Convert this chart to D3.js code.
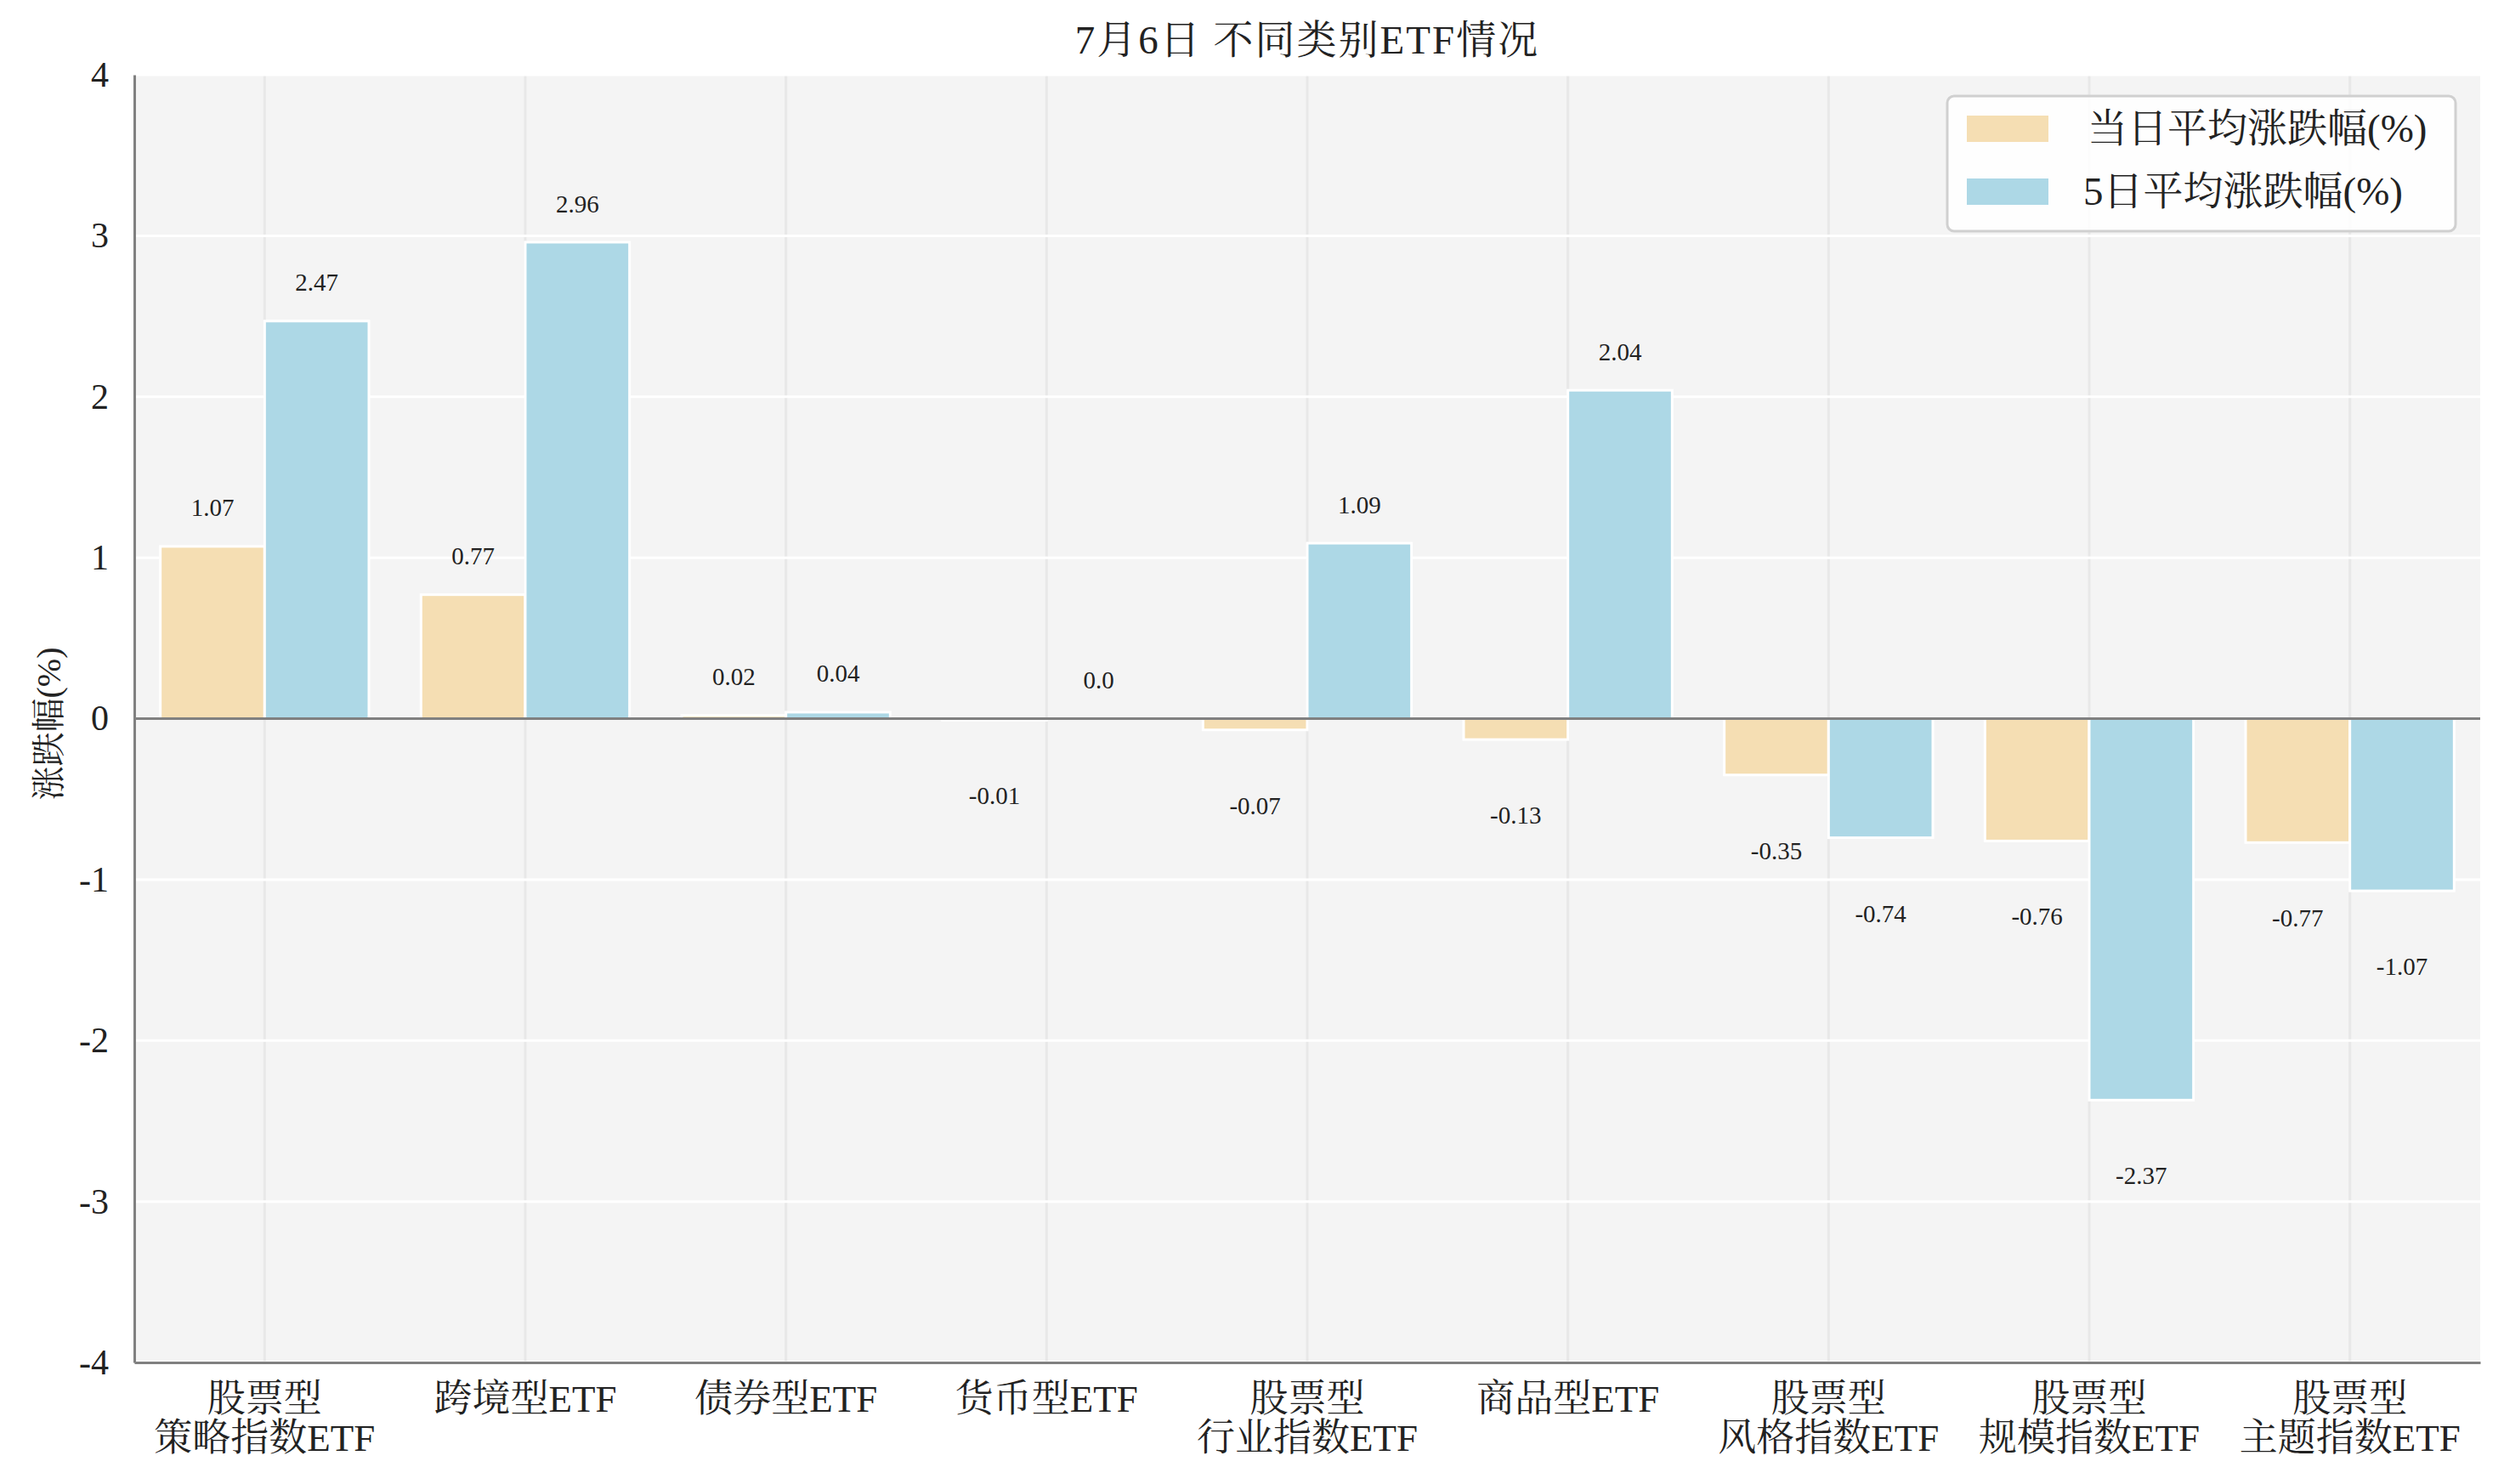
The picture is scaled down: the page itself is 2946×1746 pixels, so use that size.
<!DOCTYPE html>
<html><head><meta charset="utf-8">
<script src="https://cdn.jsdelivr.net/npm/d3@7"></script>
<style>
html,body{margin:0;padding:0;background:#fff;}
text{font-family:"Liberation Serif","Noto Serif CJK SC","Noto Sans CJK SC",serif;fill:#222;}
</style></head>
<body>
<svg id="chart" width="2946" height="1746"></svg>
<script>
const categories = ["股票型\n策略指数ETF","跨境型ETF","债券型ETF","货币型ETF","股票型\n行业指数ETF","商品型ETF","股票型\n风格指数ETF","股票型\n规模指数ETF","股票型\n主题指数ETF"];
const dailyValues = [1.07, 0.77, 0.02, -0.01, -0.07, -0.13, -0.35, -0.76, -0.77];
const fiveDayValues = [2.47, 2.96, 0.04, 0.0, 1.09, 2.04, -0.74, -2.37, -1.07];
const seriesNames = ["当日平均涨跌幅(%)", "5日平均涨跌幅(%)"];
const yTicks = [-4,-3,-2,-1,0,1,2,3,4];
const titleText = "7月6日 不同类别ETF情况";
const yLabel = "涨跌幅(%)";

const colors = ["#F5DEB3", "#ADD8E6"];
const svg = d3.select("#chart");
const W = 2946, H = 1746;
const m = {left:158, right:W-2918, top:88, bottom:H-1603};
const iw = W - m.left - m.right, ih = H - m.top - m.bottom;

const x = d3.scaleBand().domain(d3.range(categories.length)).range([m.left, m.left+iw]).padding(0);
const y = d3.scaleLinear().domain([-4,4]).range([m.top+ih, m.top]);
const fmtVal = d => Number.isInteger(d) ? d.toFixed(1) : String(d);

// title
svg.append("text").attr("x", m.left+iw/2).attr("y", 47).attr("text-anchor","middle")
  .attr("dominant-baseline","central").style("font-size","47px").style("letter-spacing","2px").text(titleText);

// background
svg.append("rect").attr("x", m.left).attr("y", m.top).attr("width", iw).attr("height", ih).attr("fill","#f4f4f4");

// vertical grid
svg.append("g").selectAll("line").data(d3.range(categories.length)).join("line")
  .attr("x1", i=>x(i)+x.bandwidth()/2).attr("x2", i=>x(i)+x.bandwidth()/2)
  .attr("y1", m.top).attr("y2", m.top+ih).attr("stroke","#e8e8e8").attr("stroke-width",3);
// horizontal grid
svg.append("g").selectAll("line").data(yTicks).join("line")
  .attr("x1", m.left).attr("x2", m.left+iw).attr("y1", d=>y(d)).attr("y2", d=>y(d))
  .attr("stroke","#ffffff").attr("stroke-width",3);

// bars
const bw = x.bandwidth()*0.4;
const series = [dailyValues, fiveDayValues];
series.forEach((vals, s) => {
  svg.append("g").selectAll("rect").data(vals).join("rect")
    .attr("x", (d,i)=> x(i)+x.bandwidth()/2 - bw + s*bw)
    .attr("width", bw)
    .attr("y", d=> Math.min(y(d), y(0)))
    .attr("height", d=> Math.abs(y(d)-y(0)))
    .attr("fill", colors[s]).attr("stroke","#ffffff").attr("stroke-width",3);
  svg.append("g").selectAll("text").data(vals).join("text")
    .attr("x", (d,i)=> x(i)+x.bandwidth()/2 - bw/2 + s*bw)
    .attr("y", d=> d>=0 ? y(d+0.24) : y(d-0.47))
    .attr("text-anchor","middle").attr("dominant-baseline","central")
    .style("font-size","29px").text(fmtVal);
});

// zero line
svg.append("line").attr("x1", m.left).attr("x2", m.left+iw).attr("y1", y(0)).attr("y2", y(0))
  .attr("stroke","#808080").attr("stroke-width",3);

// y axis
const yAxis = svg.append("g").attr("transform",`translate(${m.left},0)`)
  .call(d3.axisLeft(y).tickValues(yTicks).tickSize(0).tickPadding(30).tickFormat(d=>String(d)));
yAxis.select(".domain").attr("stroke","#808080").attr("stroke-width",3);
yAxis.selectAll("text").style("font-size","42px").attr("fill","#222");

// x axis
const xAxis = svg.append("g").attr("transform",`translate(0,${m.top+ih})`)
  .call(d3.axisBottom(x).tickSize(0).tickFormat(""));
xAxis.select(".domain").attr("stroke","#808080").attr("stroke-width",3);
xAxis.selectAll(".tick").each(function(i){
  const lines = categories[i].split("\n");
  const t = d3.select(this).append("text").attr("text-anchor","middle").style("font-size","45px").attr("fill","#222");
  lines.forEach((ln,k)=> t.append("tspan").attr("x",0).attr("y", 43 + k*46).attr("dominant-baseline","central").text(ln));
});

// y label
svg.append("text").attr("transform",`translate(57,${y(0)+6}) rotate(-90)`).attr("text-anchor","middle")
  .attr("dominant-baseline","central").style("font-size","40px").text(yLabel);

// legend
const lg = svg.append("g");
lg.append("rect").attr("x",2291).attr("y",113).attr("width",598).attr("height",159).attr("rx",8)
  .attr("fill","#ffffff").attr("fill-opacity",0.85).attr("stroke","#d0d0d0").attr("stroke-width",3);
seriesNames.forEach((n,k)=>{
  const cy = 151 + k*74;
  lg.append("rect").attr("x",2314).attr("y",cy-15).attr("width",96).attr("height",31).attr("fill",colors[k]);
  lg.append("text").attr("x", k===0?2456:2451).attr("y",cy).attr("dominant-baseline","central").style("font-size","47px").text(n);
});
</script>
</body></html>
